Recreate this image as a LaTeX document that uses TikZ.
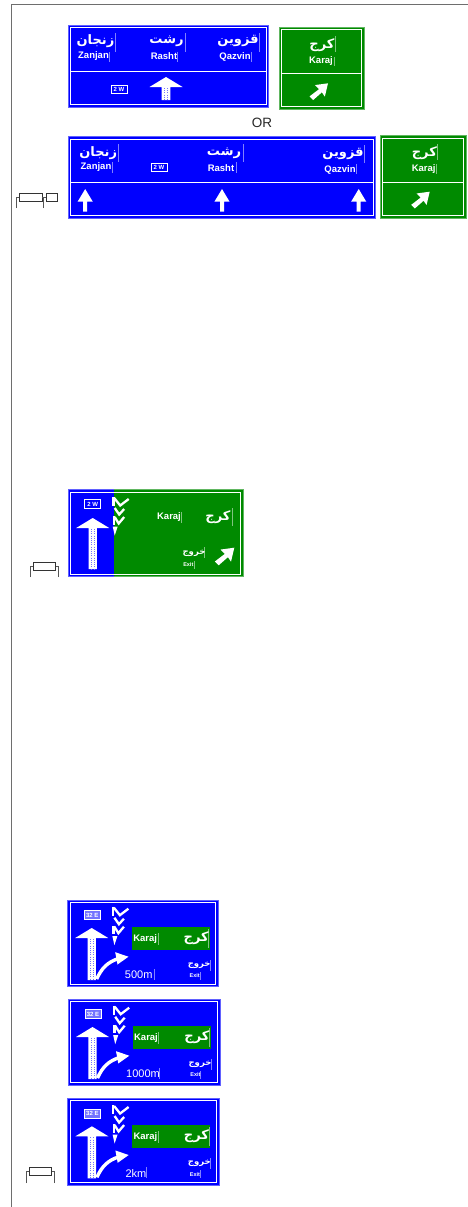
\documentclass[tikz,border=0pt]{standalone}
\usepackage{fontspec}
\setmainfont{Liberation Sans}
\newfontfamily\arabicfont[Script=Arabic]{DejaVu Sans}
\TeXXeTstate=1
\definecolor{signblue}{RGB}{0,0,255}
\definecolor{signgreen}{RGB}{0,138,0}
\definecolor{framegray}{RGB}{110,110,110}
\definecolor{icongray}{RGB}{85,85,85}
\newcommand\fatext[1]{\arabicfont\bfseries\beginR #1\endR}
\tikzset{
  fa/.style={inner sep=0pt,text=white,font=\fontsize{13}{13}\selectfont},
  fasmall/.style={inner sep=0pt,text=white,font=\fontsize{8.5}{9}\selectfont},
  en/.style={inner sep=0pt,text=white,font=\fontsize{9.5}{10}\selectfont\bfseries},
  entiny/.style={inner sep=0pt,text=white,font=\fontsize{5.5}{6}\selectfont\bfseries},
  plate/.style={inner sep=0pt,draw=white,line width=.6pt,text=white,minimum width=16pt,minimum height=8.5pt,font=\fontsize{6}{6}\selectfont\bfseries},
  tickline/.style={white,opacity=.5,line width=.35pt},
  inner line/.style={white,line width=.9pt},
  icon/.style={icongray,line width=.7pt},
  iconbox/.style={draw=black!80,fill=white,line width=.7pt}
}
% sign panel: x0 y0 x1 y1 colour
\newcommand\signpanel[5]{%
  \draw[fill=#5,draw=#5!62!white,line width=.9pt] (#1,#2) rectangle (#3,#4);
  \draw[inner line] (#1+2.4,#2+2.4) rectangle (#3-2.4,#4-2.4);}
\newcommand\tickbar[3]{\draw[tickline] (#1,#2) -- (#1,#3);}
% small up arrow, centre x, tip y
\newcommand\smallup[2]{\fill[white] (#1,#2) -- (#1+7.6,#2+12.7) -- (#1+2,#2+12.7) -- (#1+2,#2+22.7) -- (#1-2,#2+22.7) -- (#1-2,#2+12.7) -- (#1-7.6,#2+12.7) -- cycle;}
% grid arrow: centre x, tip y, base y, bottom y, half head, half shaft, colour
\newcommand\gridup[7]{%
  \fill[white] (#1,#2) -- (#1+#5,#3) -- (#1+#6,#3) -- (#1+#6,#4) -- (#1-#6,#4) -- (#1-#6,#3) -- (#1-#5,#3) -- cycle;
  \foreach \dx in {-.33,.33}{\draw[#7!55!white,line width=.45pt,dash pattern=on .8pt off 1.4pt] (#1+\dx*#6,#3+1) -- (#1+\dx*#6,#4);}}
% diagonal arrow with tip at x y
\newcommand\diagarrow[3]{\fill[white,shift={(#1,#2)},scale=#3] (0,0) -- (-12.5,1.7) -- (-8.6,5.6) -- (-17.6,12.5) -- (-14.2,16) -- (-5.8,8.6) -- (-3,12.7) -- cycle;}
% chevrons, origin x y
\newcommand\chevrons[2]{\begin{scope}[shift={(#1,#2)},white,line width=2.3pt]
  \draw (1.2,0) -- (1.2,9);
  \draw (2,1) -- (8,8.5) -- (16.5,2);
  \draw (2.5,11) -- (7,17.5) -- (12,12);
  \draw (1.7,19) -- (1.7,27.5);
  \draw (2.5,20) -- (6.5,26.5) -- (12,20);
  \fill (.5,29.5) -- (5.5,29.5) -- (2.5,38.5) -- cycle;
\end{scope}}
% lower sign: x0 y0 w h distance barx prefix distcentre
\newcommand\lowersign[8]{%
  \begin{scope}[shift={(#1,#2)},name prefix=#7-]
  \signpanel{0}{0}{#3}{#4}{signblue}
  \node[plate,fill=white!45!signblue,minimum height=9pt] (plate) at (24.5,15) {32 E};
  \chevrons{44.2}{6.7}
  \gridup{24}{28}{38}{80}{16.5}{4.2}{signblue}
  \draw[white,line width=3.4pt] (29,79) .. controls (34,68) and (40,62) .. (51,58.5);
  \fill[white] (60.8,56.7) -- (47.5,52.2) -- (49.8,64.5) -- cycle;
  \fill[signgreen] (64.5,27) rectangle (142.5,50);
  \node[en] (en) at (77.5,39) {Karaj};
  \tickbar{90}{33}{45}
  \node[fa] (fa) at (128.5,38) {\fatext{کرج}};
  \tickbar{140.8}{29}{48}
  \node[fasmall] (exitfa) at (131.5,65) {\fatext{خروج}};
  \tickbar{142.5}{60}{71}
  \node[entiny] (exiten) at (127,76) {Exit};
  \tickbar{132}{72}{80}
  \node[inner sep=0pt,text=white,font=\fontsize{11}{11}\selectfont] (dist) at (#8,75) {#5};
  \tickbar{#6}{69}{80}
  \end{scope}}
\begin{document}
\begin{tikzpicture}[x=1pt,y=-1pt]
\useasboundingbox (0,0) rectangle (468,1207);
% page frame
\draw[framegray,line width=.9pt] (468,4.5) -- (11.5,4.5) -- (11.5,1207);
% --- sign 1
\signpanel{68.3}{25.3}{268.5}{107}{signblue}
\draw[inner line] (70.7,71) -- (266.1,71);
\node[fa] (z1) at (95.5,41) {\fatext{زنجان}};
\tickbar{115.5}{33}{52}
\node[en] (z1e) at (93.5,56.5) {Zanjan};
\tickbar{109.5}{52}{62}
\node[fa] (r1) at (166.5,41) {\fatext{رشت}};
\tickbar{185.5}{33}{52}
\node[en] (r1e) at (164,56.5) {Rasht};
\tickbar{177.5}{52}{62}
\node[fa] (q1) at (238,41) {\fatext{قزوین}};
\tickbar{258.7}{33}{52}
\node[en] (q1e) at (235,57) {Qazvin};
\tickbar{251}{52}{62}
\node[plate] (p1) at (119,89.5) {2 W};
\gridup{166}{77}{87}{100}{16.5}{4.3}{signblue}
% --- sign 2
\signpanel{279}{27.5}{364}{109}{signgreen}
\draw[inner line] (281.4,73.5) -- (361.6,73.5);
\node[fa] (k2) at (322,45) {\fatext{کرج}};
\tickbar{335.5}{36}{52}
\node[en] (k2e) at (321,61.5) {Karaj};
\tickbar{334}{57}{66}
\diagarrow{328}{83.3}{1.05}
\node[font=\fontsize{13.5}{14}\selectfont,text=black!85,inner sep=0pt] (or) at (262,122.5) {OR};
% --- sign 3
\signpanel{68.5}{136.8}{375.5}{218.3}{signblue}
\draw[inner line] (70.9,182.5) -- (373.1,182.5);
\node[fa] (z3) at (98.2,153) {\fatext{زنجان}};
\tickbar{118.5}{144}{162}
\node[en] (z3e) at (96,167.5) {Zanjan};
\tickbar{112.5}{162}{173}
\node[plate] (p3) at (159,167.5) {2 W};
\node[fa] (r3) at (224,153) {\fatext{رشت}};
\tickbar{243.3}{144}{162}
\node[en] (r3e) at (221,168) {Rasht};
\tickbar{235.7}{162}{173}
\node[fa] (q3) at (343,154) {\fatext{قزوین}};
\tickbar{364.5}{145}{163}
\node[en] (q3e) at (340,169.5) {Qazvin};
\tickbar{356.5}{164}{174}
\smallup{85.2}{189}
\smallup{222}{189}
\smallup{358.7}{189}
% --- sign 3 green
\signpanel{380.5}{135.8}{466}{218}{signgreen}
\draw[inner line] (382.9,182) -- (463.6,182);
\node[fa] (k3) at (424.3,153) {\fatext{کرج}};
\tickbar{437}{144}{160}
\node[en] (k3e) at (423.7,169) {Karaj};
\tickbar{436}{164}{174}
\diagarrow{429.7}{191.7}{1.05}
% --- sign 4
\fill[signgreen] (68,489.7) rectangle (243,576.7);
\fill[signblue] (68,489.7) rectangle (113.7,576.7);
\draw[signgreen!62!white,line width=.9pt] (113.7,489.7) -- (243,489.7) -- (243,576.7) -- (113.7,576.7);
\draw[signblue!62!white,line width=.9pt] (113.7,489.7) -- (68,489.7) -- (68,576.7) -- (113.7,576.7);
\draw[inner line] (70.4,492.1) rectangle (240.6,574.3);
\node[plate] (p4) at (92.7,504) {2 W};
\gridup{92.7}{518}{528}{569}{16.5}{4.2}{signblue}
\chevrons{112.2}{497}
\node[en] (k4e) at (169,517.3) {Karaj};
\tickbar{181.5}{512}{523}
\node[fa] (k4) at (218,517) {\fatext{کرج}};
\tickbar{232}{508}{526}
\node[fasmall] (x4) at (194,553) {\fatext{خروج}};
\tickbar{204.5}{547}{558}
\node[entiny] (x4e) at (188.3,565) {Exit};
\tickbar{194}{561}{569}
\diagarrow{234.3}{547.7}{1.1}
% --- lower signs
\lowersign{67.7}{900}{150.5}{86.7}{500m}{86}{a}{71}
\lowersign{68.5}{999}{151.5}{86}{1000m}{91}{b}{74.5}
\lowersign{67.9}{1098.3}{151.2}{86.7}{2km}{78.6}{c}{68}
% --- carriageway icons
\draw[icon] (16,208) -- (16,197.5) -- (19,197.5);
\node[iconbox,inner sep=0pt,minimum width=23pt,minimum height=8pt] (i1a) at (30.5,197.5) {};
\draw[icon] (i1a.east) -- (46,197.5);
\draw[icon] (43,208) -- (43,197.5);
\node[iconbox,inner sep=0pt,minimum width=11pt,minimum height=8pt] (i1b) at (51.5,197.5) {};
\node[iconbox,inner sep=0pt,minimum width=22pt,minimum height=8pt] (i2) at (44.5,566) {};
\draw[icon] (30.5,577) -- (30.5,566) -- (i2.west);
\draw[icon] (58,577) -- (58,566) -- (i2.east);
\node[iconbox,inner sep=0pt,minimum width=22pt,minimum height=8pt] (i3) at (40.3,1171.5) {};
\draw[icon] (26.5,1183) -- (26.5,1171.5) -- (i3.west);
\draw[icon] (54.2,1183) -- (54.2,1171.5) -- (i3.east);
\end{tikzpicture}
\end{document}
